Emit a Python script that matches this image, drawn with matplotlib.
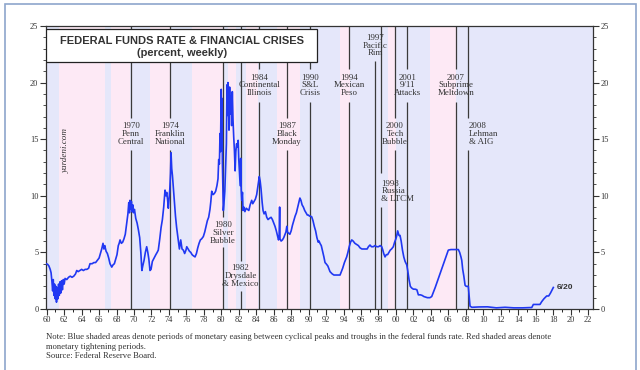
import matplotlib
matplotlib.use('Agg')
import matplotlib.pyplot as plt
from matplotlib.patches import Rectangle
from matplotlib.ticker import MultipleLocator, FuncFormatter

# ---------------------------------------------------------------------------
# Data: weekly federal funds rate (in percent)
# ---------------------------------------------------------------------------
ff_year = [
    1959.92, 1960.1, 1960.25, 1960.4, 1960.5, 1960.6, 1960.68, 1960.75, 1960.82, 1960.9,
    1960.98, 1961.05, 1961.12, 1961.2, 1961.28, 1961.36, 1961.44, 1961.52, 1961.6, 1961.7,
    1961.8, 1961.9, 1962.0, 1962.1, 1962.3, 1962.5, 1962.7, 1962.9, 1963.1, 1963.3,
    1963.44, 1963.6, 1963.8, 1964.0, 1964.2, 1964.4, 1964.6, 1964.8, 1964.96, 1965.2,
    1965.4, 1965.6, 1965.8, 1966.0, 1966.15, 1966.3, 1966.45, 1966.55, 1966.65, 1966.8,
    1966.95, 1967.1, 1967.25, 1967.45, 1967.6, 1967.75, 1967.9, 1968.05, 1968.2, 1968.3,
    1968.4, 1968.55, 1968.7, 1968.85, 1969.0, 1969.15, 1969.3, 1969.4, 1969.48, 1969.54,
    1969.62, 1969.7, 1969.78, 1969.86, 1969.94, 1970.05, 1970.2, 1970.35, 1970.5, 1970.65,
    1970.78, 1970.9, 1971.0, 1971.15, 1971.3, 1971.45, 1971.58, 1971.7, 1971.83, 1971.95,
    1972.1, 1972.3, 1972.5, 1972.65, 1972.78, 1972.95, 1973.1, 1973.25, 1973.4, 1973.55,
    1973.65, 1973.75, 1973.85, 1973.93, 1974.02, 1974.1, 1974.18, 1974.24, 1974.32, 1974.4,
    1974.5, 1974.62, 1974.75, 1974.88, 1975.0, 1975.07, 1975.2, 1975.35, 1975.5, 1975.65,
    1975.8, 1975.95, 1976.04, 1976.2, 1976.35, 1976.5, 1976.65, 1976.8, 1976.99, 1977.15,
    1977.3, 1977.45, 1977.6, 1977.75, 1977.94, 1978.1, 1978.25, 1978.4, 1978.55, 1978.7,
    1978.8, 1978.9, 1979.05, 1979.2, 1979.35, 1979.5, 1979.62, 1979.7, 1979.78, 1979.85,
    1979.9, 1979.95, 1979.99, 1980.04, 1980.08, 1980.12, 1980.18, 1980.23, 1980.3, 1980.4,
    1980.5, 1980.58, 1980.65, 1980.7, 1980.76, 1980.82, 1980.88, 1980.95, 1981.02, 1981.1,
    1981.18, 1981.26, 1981.34, 1981.42, 1981.5, 1981.58, 1981.66, 1981.75, 1981.85, 1981.93,
    1982.0, 1982.08, 1982.16, 1982.22, 1982.28, 1982.34, 1982.42, 1982.49, 1982.58, 1982.7,
    1982.85, 1983.0, 1983.15, 1983.3, 1983.48, 1983.6, 1983.75, 1983.9, 1984.05, 1984.2,
    1984.35, 1984.45, 1984.55, 1984.68, 1984.78, 1984.9, 1985.05, 1985.2, 1985.35, 1985.5,
    1985.7, 1985.85, 1986.0, 1986.15, 1986.3, 1986.45, 1986.55, 1986.62, 1986.68, 1986.72,
    1986.85, 1987.0, 1987.15, 1987.3, 1987.4, 1987.5, 1987.58, 1987.7, 1987.85, 1988.0,
    1988.15, 1988.3, 1988.45, 1988.6, 1988.75, 1988.9, 1989.0, 1989.12, 1989.25, 1989.4,
    1989.55, 1989.7, 1989.85, 1989.97, 1990.1, 1990.2, 1990.35, 1990.5, 1990.65, 1990.8,
    1990.95, 1991.1, 1991.2, 1991.3, 1991.45, 1991.6, 1991.75, 1991.88, 1992.0, 1992.2,
    1992.45, 1992.7, 1992.9, 1993.2, 1993.4, 1993.6, 1993.75, 1993.9, 1994.1, 1994.25,
    1994.36, 1994.5, 1994.65, 1994.8, 1994.94, 1995.1, 1995.3, 1995.5, 1995.7, 1995.89,
    1996.1, 1996.3, 1996.5, 1996.7, 1996.85, 1997.03, 1997.2, 1997.4, 1997.6, 1997.8,
    1998.0, 1998.2, 1998.37, 1998.5, 1998.6, 1998.75, 1998.9, 1999.05, 1999.2, 1999.35,
    1999.5, 1999.7, 1999.85, 2000.0, 2000.1, 2000.2, 2000.27, 2000.35, 2000.47, 2000.6,
    2000.75, 2000.9, 2001.05, 2001.24, 2001.35, 2001.5, 2001.65, 2001.81, 2002.0, 2002.2,
    2002.4, 2002.57, 2002.8, 2003.0, 2003.2, 2003.4, 2003.6, 2003.9, 2004.1, 2004.5,
    2005.0, 2005.5, 2006.0, 2006.3, 2006.7, 2007.15, 2007.3, 2007.45, 2007.54, 2007.65,
    2007.78, 2007.92, 2008.05, 2008.2, 2008.29, 2008.38, 2008.49, 2008.7, 2009.5, 2010.5,
    2011.5, 2012.5, 2013.5, 2014.5, 2015.56, 2015.74, 2016.5, 2016.7, 2016.95, 2017.27,
    2017.5, 2017.7, 2017.9, 2018.03,
]
ff_rate = [
    4.0, 3.95, 3.8, 3.5, 3.2, 2.4, 1.6, 2.6, 1.2, 2.2,
    0.9, 2.0, 0.6, 1.9, 0.9, 2.2, 1.2, 2.4, 1.4, 2.5,
    1.7, 2.6, 2.2, 2.7, 2.6, 2.8, 2.9, 2.8, 2.9, 3.1,
    3.4, 3.3, 3.4, 3.5, 3.4, 3.5, 3.5, 3.6, 4.0, 4.0,
    4.1, 4.1, 4.3, 4.5, 4.9, 5.3, 5.8, 5.3, 5.6, 5.1,
    4.9, 4.5, 4.0, 3.7, 3.9, 4.0, 4.4, 4.8, 5.6, 5.8,
    6.1, 5.8, 5.9, 6.2, 6.6, 7.5, 8.4, 9.4, 8.5, 9.6,
    8.8, 9.5, 8.6, 9.2, 8.5, 8.8, 8.0, 7.6, 7.0, 6.3,
    5.0, 3.4, 3.8, 4.3, 5.0, 5.5, 5.0, 4.4, 3.4, 3.5,
    4.2, 4.5, 4.8, 5.0, 5.2, 6.2, 7.2, 7.9, 9.0, 10.5,
    10.0, 10.3, 9.6, 8.9, 9.8, 10.6, 12.0, 13.8, 12.4, 11.8,
    10.8, 9.5, 8.2, 7.2, 6.5, 6.1, 5.3, 6.1, 5.3, 5.2,
    4.9, 5.2, 5.5, 5.3, 5.1, 5.0, 4.8, 4.7, 4.6, 4.9,
    5.4, 5.8, 6.1, 6.2, 6.4, 6.8, 7.3, 7.8, 8.1, 8.8,
    9.5, 10.4, 10.1, 10.2, 10.4, 10.9, 11.5, 13.2, 12.8, 15.5,
    13.9, 17.2, 19.4, 16.8, 18.6, 13.0, 10.8, 8.7, 9.3, 10.4,
    12.6, 14.6, 19.8, 17.1, 20.0, 18.2, 15.8, 19.6, 17.2, 18.8,
    16.2, 19.2, 16.7, 15.2, 14.0, 12.2, 13.9, 14.6, 14.3, 14.9,
    13.2, 12.0, 10.9, 13.3, 10.5, 9.6, 10.3, 8.7, 9.0, 8.6,
    8.9, 8.8, 8.7, 9.2, 9.6, 9.3, 9.5, 9.7, 10.1, 10.9,
    11.7, 11.3, 10.6, 9.4, 8.7, 8.4, 8.6, 8.1, 7.9, 8.0,
    8.1, 7.9, 7.6, 7.3, 6.9, 6.4, 6.1, 6.3, 9.0, 6.2,
    6.0, 6.1, 6.3, 6.6, 6.8, 7.3, 6.8, 6.7, 6.6, 6.9,
    7.4, 7.8, 8.2, 8.5, 9.0, 9.5, 9.8, 9.6, 9.2, 9.0,
    8.7, 8.5, 8.3, 8.3, 8.2, 8.2, 8.15, 7.8, 7.3, 6.9,
    6.3, 5.9, 6.0, 5.8, 5.6, 5.1, 4.6, 4.1, 4.0, 3.8,
    3.3, 3.1, 3.0, 3.0, 3.0, 3.0, 3.3, 3.6, 4.1, 4.4,
    4.6, 5.0, 5.5, 5.9, 6.1, 6.0, 5.8, 5.7, 5.6, 5.4,
    5.3, 5.3, 5.3, 5.3, 5.5, 5.65, 5.5, 5.5, 5.6, 5.5,
    5.5, 5.6, 5.5, 5.2, 4.9, 4.6, 4.8, 4.8, 5.0, 5.2,
    5.3, 5.5, 5.9, 6.2, 6.5, 6.9, 6.7, 6.5, 6.5, 6.0,
    5.2, 4.6, 4.2, 3.9, 3.4, 2.6, 2.0, 1.85, 1.75, 1.75,
    1.7, 1.25, 1.25, 1.2, 1.1, 1.05, 1.0, 1.0, 1.1, 1.9,
    3.0, 4.1, 5.2, 5.25, 5.25, 5.25, 5.0, 4.6, 4.3, 3.5,
    2.9, 2.1, 2.0, 2.0, 2.0, 1.2, 0.25, 0.15, 0.18, 0.19,
    0.1, 0.15, 0.1, 0.1, 0.13, 0.4, 0.4, 0.65, 0.9, 1.15,
    1.15, 1.4, 1.7, 1.9,
]

# monetary easing (blue) and tightening (red) periods
easing_spans = [
    (1959.9, 1961.44), (1966.68, 1967.37), (1969.54, 1971.83), (1974.12, 1976.61),
    (1980.16, 1980.77), (1981.68, 1982.83), (1984.24, 1986.38), (1989.01, 1993.6),
    (1994.74, 1999.1), (2000.0, 2003.9), (2006.85, 2022.6),
]
tightening_spans = [
    (1961.44, 1966.68), (1967.37, 1969.54), (1971.83, 1974.12), (1976.61, 1980.16),
    (1980.77, 1981.68), (1982.83, 1984.24), (1986.38, 1989.01), (1993.6, 1994.74),
    (1999.1, 2000.0), (2003.9, 2006.85),
]

# financial crises
crisis_year = [1969.62, 1974.16, 1980.16, 1982.2, 1984.35, 1987.49, 1990.16,
               1994.66, 1997.6, 1998.29, 1999.9, 2001.31, 2006.85, 2008.29]
crisis_label = [
    '1970\nPenn\nCentral', '1974\nFranklin\nNational', '1980\nSilver\nBubble',
    '1982\nDrysdale\n& Mexico', '1984\nContinental\nIllinois', '1987\nBlack\nMonday',
    '1990\nS&L\nCrisis', '1994\nMexican\nPeso', '1997\nPacific\nRim',
    '1998\nRussia\n& LTCM', '2000\nTech\nBubble', '2001\n9/11\nAttacks',
    '2007\nSubprime\nMeltdown', '2008\nLehman\n& AIG',
]
# label layout: (label centre y, horizontal alignment, gap bottom, gap top)
crisis_layout = [
    (15.45, 'center', 14.0, 16.9), (15.45, 'center', 14.0, 16.9), (6.7, 'center', 5.5, 8.1),
    (2.9, 'center', 1.6, 4.2), (19.75, 'center', 18.3, 21.2), (15.45, 'center', 14.0, 16.9),
    (19.75, 'center', 18.3, 21.2), (19.75, 'center', 18.3, 21.2), (23.25, 'center', 21.9, 26.0),
    (10.4, 'left', 9.0, 12.0), (15.45, 'center', 14.0, 16.9), (19.75, 'center', 18.3, 21.2),
    (19.75, 'center', 18.3, 21.2), (15.45, 'left', 14.0, 16.9),
]

last_label = '6/20'
note_lines = [
    'Note: Blue shaded areas denote periods of monetary easing between cyclical peaks and '
    'troughs in the federal funds rate. Red shaded areas denote',
    'monetary tightening periods.',
    'Source: Federal Reserve Board.',
]

# ---------------------------------------------------------------------------
# Plot
# ---------------------------------------------------------------------------
SERIF = ['Liberation Serif', 'DejaVu Serif']
SANS = ['Liberation Sans', 'DejaVu Sans']
TXT = '#333333'

fig = plt.figure(figsize=(6.4, 3.7), dpi=100)
ax = fig.add_axes([0.0719, 0.1649, 0.8542, 0.7649])

for a, b in easing_spans:
    ax.axvspan(a, b, color='#e5e7fa', lw=0, zorder=0)
for a, b in tightening_spans:
    ax.axvspan(a, b, color='#fde9f5', lw=0, zorder=0)

ax.plot(ff_year, ff_rate, color='#2038f2', lw=1.2, zorder=3)

# crisis lines and labels
for yr, lab, (ly, ha, g0, g1) in zip(crisis_year, crisis_label, crisis_layout):
    ax.vlines(yr, 0, g0, color='#3a3a3a', lw=0.9, zorder=2)
    if g1 < 25:
        ax.vlines(yr, g1, 25, color='#3a3a3a', lw=0.9, zorder=2)
    tx = yr + 0.05 if ha == 'left' else yr
    ax.text(tx, ly, lab, ha=ha, va='center', fontsize=6.4, family=SERIF,
            color=TXT, linespacing=0.95, zorder=4)

ax.text(ff_year[-1] + 0.35, ff_rate[-1], last_label, ha='left', va='center',
        fontsize=6, fontweight='bold', family=SANS, color=TXT, zorder=4)

ax.text(0.036, 0.56, 'yardeni.com', transform=ax.transAxes, rotation=90,
        ha='center', va='center', fontsize=6.6, style='italic', family=SERIF,
        color=TXT, zorder=4)

# title box
ax.add_patch(Rectangle((0.0, 0.873), 0.4957, 0.116, transform=ax.transAxes,
                       facecolor='white', edgecolor='#222222', lw=0.9, zorder=5))
ax.text(0.248, 0.947, 'FEDERAL FUNDS RATE & FINANCIAL CRISES', transform=ax.transAxes,
        ha='center', va='center', fontsize=8, fontweight='bold', family=SANS,
        color=TXT, zorder=6)
ax.text(0.248, 0.906, '(percent, weekly)', transform=ax.transAxes,
        ha='center', va='center', fontsize=8, fontweight='bold', family=SANS,
        color=TXT, zorder=6)

# axes
ax.set_xlim(1959.92, 2022.54)
ax.set_ylim(0, 25)
ax.xaxis.set_major_locator(MultipleLocator(2))
ax.xaxis.set_minor_locator(MultipleLocator(1))
ax.xaxis.set_major_formatter(FuncFormatter(lambda v, p: '%02d' % (int(round(v)) % 100)))
ax.yaxis.set_major_locator(MultipleLocator(5))
ax.yaxis.set_minor_locator(MultipleLocator(1))
ax.yaxis.set_ticks_position('both')
ax.tick_params(axis='y', which='both', direction='out', labelright=True,
               labelsize=6, colors='#333333', pad=1.5)
ax.tick_params(axis='y', which='major', length=4, width=0.8)
ax.tick_params(axis='y', which='minor', length=2.5, width=0.6)
ax.tick_params(axis='x', which='major', direction='out', length=4, width=0.8,
               labelsize=6, colors='#333333', pad=1)
ax.tick_params(axis='x', which='minor', direction='out', length=2, width=0.6)
for lab in ax.get_xticklabels() + ax.get_yticklabels():
    lab.set_family(SERIF)
for sp in ax.spines.values():
    sp.set_color('#333333')
    sp.set_linewidth(0.9)

# note
for i, line in enumerate(note_lines):
    fig.text(0.0719, 0.089 - i * 0.026, line, ha='left', va='center', fontsize=6.2,
             family=SERIF, color=TXT)

# outer frame
fig.patches.append(Rectangle((5 / 640, -0.01), 631 / 640, 1.01 - 4 / 370,
                             transform=fig.transFigure, fill=False,
                             edgecolor='#8ea6cc', lw=1.2))

fig.savefig('out.png', dpi=100)
